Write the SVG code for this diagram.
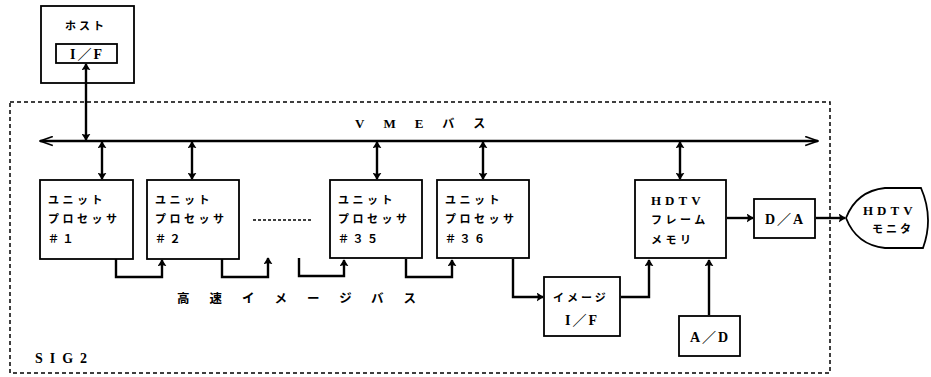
<svg xmlns="http://www.w3.org/2000/svg" width="931" height="377" viewBox="0 0 931 377">
<defs>
<marker id="ah" viewBox="0 0 10 10" refX="9" refY="5" markerWidth="7" markerHeight="9" markerUnits="userSpaceOnUse" orient="auto-start-reverse" preserveAspectRatio="none">
<path d="M0,0 L10,5 L0,10 L2,5 Z" fill="#000"/>
</marker>
<marker id="open" viewBox="0 0 12 12" refX="11" refY="6" markerWidth="14" markerHeight="11" markerUnits="userSpaceOnUse" orient="auto-start-reverse" preserveAspectRatio="none">
<path d="M0,1 L11,6 L0,11" fill="none" stroke="#000" stroke-width="1.6"/>
</marker>
</defs>
<style>
.box{fill:#fff;stroke:#000;stroke-width:1.8}
.jp{font-family:"Noto Sans CJK JP","Noto Sans CJK SC",sans-serif;font-weight:bold;font-size:11px;fill:#000}
.lt{font-family:"Liberation Serif","Noto Sans CJK JP",serif;font-weight:bold;font-size:13px;fill:#000}
.sl{font-family:"Liberation Serif","Noto Sans CJK JP",serif;font-weight:bold;font-size:14px;fill:#000;letter-spacing:2px}
.c{fill:none;stroke:#000;stroke-width:2.4}
.dash{fill:none;stroke:#000;stroke-width:1.5;stroke-dasharray:4 3}
</style>
<rect class="dash" x="10" y="102" width="820" height="271"/>
<text class="lt" x="35" y="363" style="letter-spacing:7px;font-size:14px">SIG2</text>
<text class="lt" x="355" y="128" style="letter-spacing:19px">VME<tspan class="jp" style="font-size:12px">バス</tspan></text>
<text class="jp" x="177" y="303" style="font-size:12.5px;letter-spacing:20px">高速イメージバス</text>
<g id="host">
<rect class="box" x="41" y="6" width="93" height="77"/>
<text class="jp" x="65" y="30" style="letter-spacing:3px">ホスト</text>
<rect class="box" x="56" y="44" width="61" height="19"/>
<text class="sl" x="87" y="59" text-anchor="middle">I／F</text>
</g>
<g id="up1">
<rect class="box" x="40" y="180" width="93" height="79"/>
<text class="jp" x="48" y="204" style="letter-spacing:3.5px">ユニット</text>
<text class="jp" x="48" y="223" style="letter-spacing:3.5px">プロセッサ</text>
<text class="jp" x="48" y="243" style="letter-spacing:3.5px">＃１</text>
</g>
<g id="up2">
<rect class="box" x="147" y="180" width="92" height="79"/>
<text class="jp" x="155" y="204" style="letter-spacing:3.5px">ユニット</text>
<text class="jp" x="155" y="223" style="letter-spacing:3.5px">プロセッサ</text>
<text class="jp" x="155" y="243" style="letter-spacing:3.5px">＃２</text>
</g>
<g id="up35">
<rect class="box" x="330" y="180" width="92" height="78"/>
<text class="jp" x="338" y="204" style="letter-spacing:3.5px">ユニット</text>
<text class="jp" x="338" y="223" style="letter-spacing:3.5px">プロセッサ</text>
<text class="jp" x="338" y="243" style="letter-spacing:3.5px">＃３５</text>
</g>
<g id="up36">
<rect class="box" x="437" y="180" width="92" height="78"/>
<text class="jp" x="445" y="204" style="letter-spacing:3.5px">ユニット</text>
<text class="jp" x="445" y="223" style="letter-spacing:3.5px">プロセッサ</text>
<text class="jp" x="445" y="243" style="letter-spacing:3.5px">＃３６</text>
</g>
<g id="framemem">
<rect class="box" x="635" y="180" width="91" height="78"/>
<text class="lt" x="651" y="205" style="letter-spacing:4px">HDTV</text>
<text class="jp" x="651" y="224" style="letter-spacing:3.5px">フレーム</text>
<text class="jp" x="651" y="244" style="letter-spacing:3.5px">メモリ</text>
</g>
<g id="imageif">
<rect class="box" x="544" y="277" width="76" height="59"/>
<text class="jp" x="553" y="302" style="letter-spacing:3px">イメージ</text>
<text class="sl" x="582" y="325" text-anchor="middle">I／F</text>
</g>
<g id="da">
<rect class="box" x="754" y="199" width="61" height="39"/>
<text class="sl" x="785" y="224" text-anchor="middle">D／A</text>
</g>
<g id="ad">
<rect class="box" x="679" y="316" width="61" height="40"/>
<text class="sl" x="710" y="342" text-anchor="middle">A／D</text>
</g>
<g id="monitor">
<path d="M846,218 C853,200 866,190 885,188 L921,188 Q934,218 923,248 L885,248 C866,246 853,236 846,218 Z" fill="#fff" stroke="#000" stroke-width="1.8"/>
<text class="lt" x="863" y="215" style="letter-spacing:4px">HDTV</text>
<text class="jp" x="872" y="233" style="letter-spacing:3px">モニタ</text>
</g>
<g id="connectors">
<path d="M40,141 H818" fill="none" stroke="#000" stroke-width="2.4" marker-start="url(#open)" marker-end="url(#open)"/>
<path class="c" d="M86,64 V140" marker-start="url(#ah)" marker-end="url(#ah)"/>
<path class="c" d="M102,142 V179" marker-start="url(#ah)" marker-end="url(#ah)"/>
<path class="c" d="M192,142 V179" marker-start="url(#ah)" marker-end="url(#ah)"/>
<path class="c" d="M377,142 V179" marker-start="url(#ah)" marker-end="url(#ah)"/>
<path class="c" d="M483,142 V179" marker-start="url(#ah)" marker-end="url(#ah)"/>
<path class="c" d="M680,142 V179" marker-start="url(#ah)" marker-end="url(#ah)"/>
<path class="c" d="M116,259 V277 H162 V260" marker-end="url(#ah)"/>
<path class="c" d="M222,259 V277 H268 V258" marker-end="url(#ah)"/>
<path class="c" d="M299,258 V276 H344 V260" marker-end="url(#ah)"/>
<path class="c" d="M406,259 V277 H452 V260" marker-end="url(#ah)"/>
<path class="c" d="M513,259 V297 H543" marker-end="url(#ah)"/>
<path class="c" d="M621,297 H649 V260" marker-end="url(#ah)"/>
<path class="c" d="M709,315 V260" marker-end="url(#ah)"/>
<path class="c" d="M727,218 H753" marker-end="url(#ah)"/>
<path class="c" d="M816,218 H845" marker-end="url(#ah)"/>
<path d="M253,220 H311" fill="none" stroke="#000" stroke-width="1.6" stroke-dasharray="3 2"/>
</g>
</svg>
